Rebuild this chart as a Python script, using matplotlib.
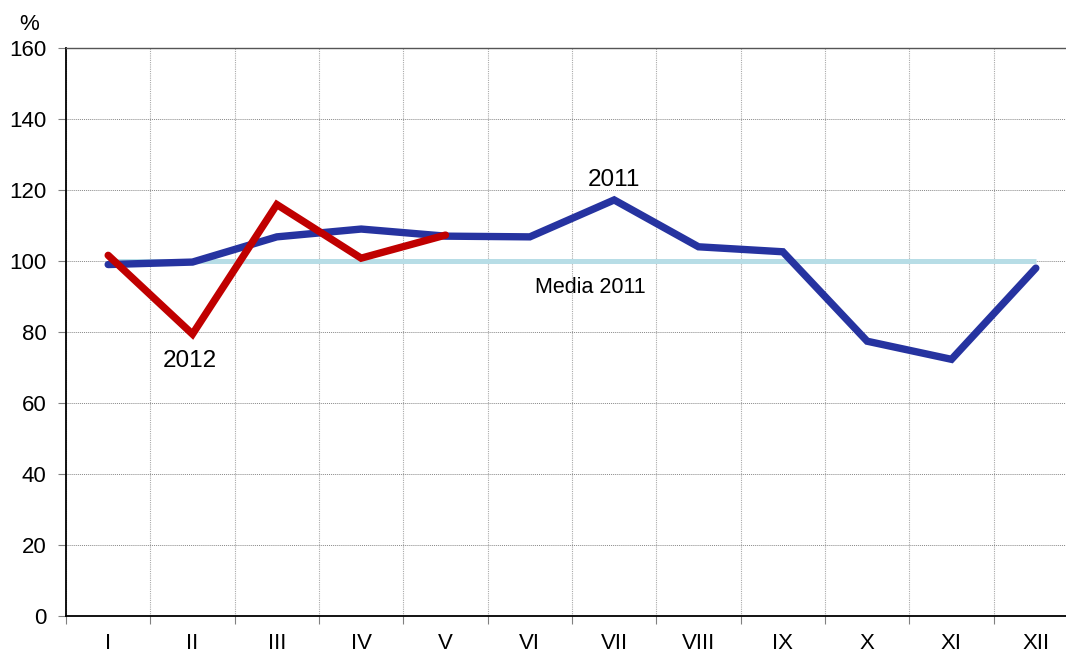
import matplotlib
matplotlib.use("Agg")
import matplotlib.pyplot as plt
import numpy as np

months = ["I", "II", "III", "IV", "V", "VI", "VII", "VIII", "IX", "X", "XI", "XII"]
values_2011 = [99.0, 99.7, 106.8, 109.0, 107.0, 106.8, 117.2, 104.0, 102.6, 77.4, 72.3, 98.0]
values_2012 = [101.6, 79.4, 115.9, 100.8, 107.3]
media_2011 = [100.0] * 12
yticks = [0, 20, 40, 60, 80, 100, 120, 140, 160]

plt.rcParams['font.family'] = ['Liberation Sans', 'DejaVu Sans']

fig = plt.figure(figsize=(10.66, 6.51), dpi=100)
ax = fig.add_axes([66/1066, 35/651, 1012/1066, 568/651])

x = np.arange(len(months))
ax.plot(x, media_2011, color="#b7dde6", lw=3.6, solid_capstyle="butt", zorder=3)
ax.plot(x, values_2011, color="#2633a0", lw=5.3, solid_joinstyle="miter",
        solid_capstyle="round", zorder=4)
ax.plot(x[:len(values_2012)], values_2012, color="#c00000", lw=5.3, solid_joinstyle="miter",
        solid_capstyle="round", zorder=5)

ax.set_xlim(-0.5, len(months) - 0.5)
ax.set_ylim(0, 160)
ax.set_yticks(yticks)
ax.set_yticklabels([str(v) for v in yticks])
ax.set_xticks(x)
ax.set_xticklabels(months)
ax.set_xticks(np.arange(-0.5, len(months), 1.0), minor=True)

ax.tick_params(axis="x", which="major", length=0, pad=12, labelsize=16)
ax.tick_params(axis="x", which="minor", length=6, color="#808080", width=0.8)
ax.tick_params(axis="y", which="major", length=6, color="#808080", width=0.8, labelsize=16, pad=8)

ax.grid(True, axis="y", which="major", linestyle=(0, (1, 1)), color="#888888", lw=0.7)
ax.grid(True, axis="x", which="minor", linestyle=(0, (1, 1)), color="#aaaaaa", lw=0.8)
ax.grid(False, axis="x", which="major")
ax.set_axisbelow(True)

for s in ["left", "bottom"]:
    ax.spines[s].set_color("black")
    ax.spines[s].set_linewidth(1.3)
ax.spines["top"].set_color("#555555")
ax.spines["top"].set_linewidth(1.0)
ax.spines["right"].set_visible(False)

ax.text(6.0, 121.1, "2011", fontsize=17.5, ha="center", va="baseline")
ax.text(0.97, 70.1, "2012", fontsize=17.5, ha="center", va="baseline")
ax.text(5.72, 91.0, "Media 2011", fontsize=15.5, ha="center", va="baseline")
fig.text(29/1066, 1 - 25/651, "%", fontsize=16, ha="center", va="center")

fig.savefig("out.png", dpi=100)
